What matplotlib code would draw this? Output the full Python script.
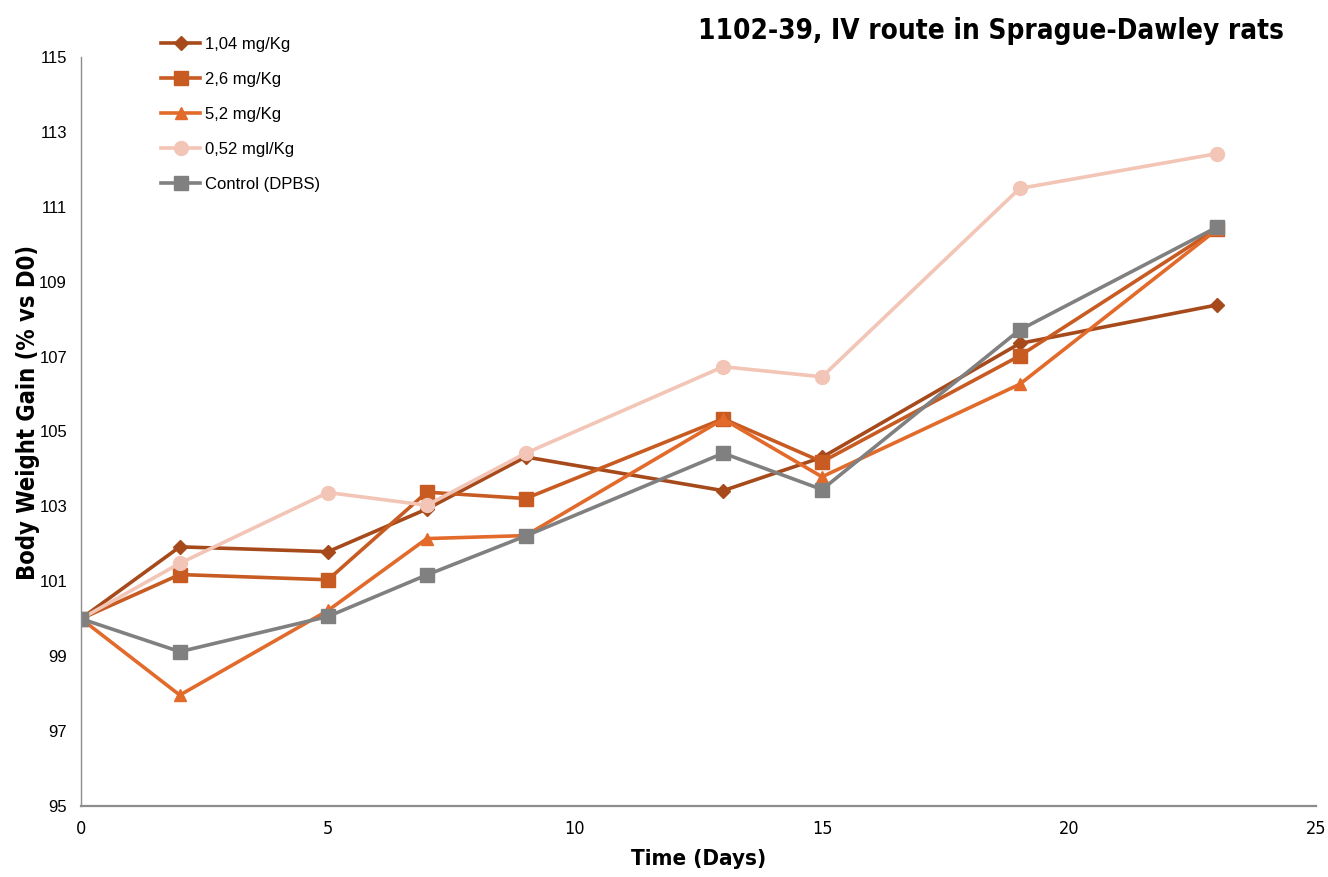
import matplotlib
matplotlib.use("Agg")
import matplotlib.pyplot as plt
from matplotlib import font_manager

# Body weight gain per dose group (% of day 0 weight)
days = [0, 2, 5, 7, 9, 13, 15, 19, 23]
labels = ["1,04 mg/Kg", "2,6 mg/Kg", "5,2 mg/Kg", "0,52 mgl/Kg", "Control (DPBS)"]
dose_104 = [100, 101.92, 101.79, 102.93, 104.32, 103.42, 104.31, 107.35, 108.38]
dose_26 = [100, 101.18, 101.04, 103.38, 103.21, 105.34, 104.19, 107.02, 110.42]
dose_52 = [100, 97.96, 100.22, 102.14, 102.22, 105.33, 103.79, 106.26, 110.40]
dose_052 = [100, 101.48, 103.37, 103.03, 104.42, 106.73, 106.46, 111.49, 112.42]
control = [100, 99.12, 100.06, 101.17, 102.21, 104.42, 103.45, 107.71, 110.46]

colors = ["#A64A1B", "#C75B22", "#E26B2C", "#F2C5B6", "#808080"]
markers = ["D", "s", "^", "o", "s"]
msizes = [7, 10, 9, 10, 10]

names = {f.name for f in font_manager.fontManager.ttflist}
regular = "Liberation Sans" if "Liberation Sans" in names else "DejaVu Sans"
cond = dict(fontfamily="DejaVu Sans", fontstretch="condensed", fontweight="bold")

fig = plt.figure(figsize=(13.28, 8.77), dpi=100)
ax = fig.add_axes([0.061, 0.081, 0.930, 0.854])

series = [dose_104, dose_26, dose_52, dose_052, control]
for vals, lab, c, m, ms in zip(series, labels, colors, markers, msizes):
    ax.plot(days, vals, color=c, marker=m, markersize=ms, linewidth=2.6,
            label=lab, markeredgecolor=c)

ax.set_xlim(0, 25)
ax.set_ylim(95, 115)
ax.set_xticks([0, 5, 10, 15, 20, 25])
ax.set_yticks(range(95, 116, 2))
ax.tick_params(length=0, pad=10, labelsize=12)
for t in ax.get_xticklabels():
    t.set_fontfamily("DejaVu Sans")
    t.set_fontstretch("condensed")
    t.set_fontsize(13)
for t in ax.get_yticklabels():
    t.set_fontfamily(regular)

for s in ["top", "right"]:
    ax.spines[s].set_visible(False)
for s in ["left", "bottom"]:
    ax.spines[s].set_color("#8c8c8c")
ax.spines["bottom"].set_linewidth(1.6)
ax.spines["left"].set_linewidth(1.0)

ax.set_xlabel("Time (Days)", fontsize=16, labelpad=8, **cond)
ax.set_ylabel("Body Weight Gain (% vs D0)", fontsize=17, **cond)
ax.yaxis.set_label_coords(-0.033, 0.526)

fig.text(0.746, 0.965, "1102-39, IV route in Sprague-Dawley rats",
         fontsize=20, ha="center", va="center", **cond)

leg = ax.legend(loc="upper left", bbox_to_anchor=(0.053, 1.047), frameon=False,
                prop={"family": regular, "size": 12}, labelspacing=1.2,
                handlelength=2.3, handletextpad=0.3)

fig.savefig("out.png", dpi=100)
